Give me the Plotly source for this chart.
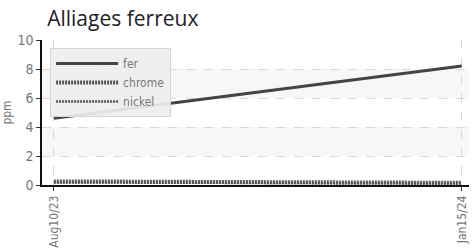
import plotly.graph_objects as go

dates = ["2023-08-10", "2024-01-15"]
tick_labels = ["Aug10/23", "Jan15/24"]
fer = [4.6, 8.2]
chrome = [0.25, 0.15]
nickel = [0.18, 0.1]

FONT = "DejaVu Sans Condensed, Liberation Sans Narrow, Roboto Condensed, Roboto, sans-serif"

fig = go.Figure()
fig.add_trace(go.Scatter(x=dates, y=fer, name="fer", mode="lines",
                         line=dict(color="#444444", width=3)))
fig.add_trace(go.Scatter(x=dates, y=chrome, name="chrome", mode="lines",
                         line=dict(color="#555555", width=4, dash="2px,1px")))
fig.add_trace(go.Scatter(x=dates, y=nickel, name="nickel", mode="lines",
                         line=dict(color="#555555", width=2.5, dash="2px,1px")))

for y0, y1 in [(2, 4), (6, 8)]:
    fig.add_shape(type="rect", xref="paper", yref="y", x0=0, x1=1, y0=y0, y1=y1,
                  fillcolor="#f7f7f7", line=dict(width=0), layer="below")

fig.update_layout(
    width=472, height=248,
    margin=dict(l=42, r=3, t=40, b=63, autoexpand=False),
    paper_bgcolor="white", plot_bgcolor="white",
    title=dict(text="Alliages ferreux", x=0.1, xanchor="left", y=0.925, yanchor="middle",
               pad=dict(l=0, t=0),
               font=dict(family="Open Sans, sans-serif", size=21, color="#222222")),
    font=dict(family=FONT, color="#777777", size=12),
    legend=dict(x=0.019, y=0.945, xanchor="left", yanchor="top",
                bgcolor="rgba(238,238,238,0.92)", bordercolor="#d5d5d5", borderwidth=1,
                font=dict(size=12, color="#777777"), itemwidth=62,
                tracegroupgap=0),
    showlegend=True,
)
fig.update_xaxes(type="date", range=["2023-08-05 10:00", "2024-01-17 20:00"],
                 tickvals=dates, ticktext=tick_labels, tickangle=-90,
                 showgrid=True, gridcolor="#d8d8d8", griddash="dash", gridwidth=1,
                 showline=True, linecolor="#111111", linewidth=1.5,
                 ticks="outside", ticklen=4, tickcolor="#333333", automargin=False,
                 tickfont=dict(size=12, color="#777777"), zeroline=False)
fig.update_yaxes(range=[0, 10], tickvals=[0, 2, 4, 6, 8, 10],
                 showgrid=True, gridcolor="#d8d8d8", griddash="dash", gridwidth=1,
                 showline=True, linecolor="#111111", linewidth=1.5,
                 ticks="outside", ticklen=4, tickcolor="#333333", automargin=False,
                 title=dict(text="ppm", standoff=8, font=dict(size=12, color="#777777")),
                 tickfont=dict(size=14, color="#777777"), zeroline=False)

fig.write_html("out.html", config={"displayModeBar": False},
               post_script="document.body.style.margin='0';")
